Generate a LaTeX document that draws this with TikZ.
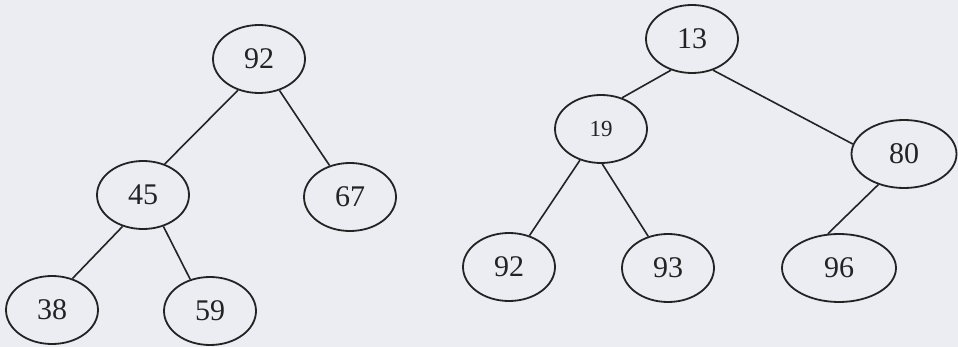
\documentclass[tikz,border=0pt]{standalone}
\usepackage{fontspec}
\setmainfont{Liberation Serif}
\usetikzlibrary{shapes.geometric}
\definecolor{bg}{RGB}{236,236,243}
\definecolor{ink}{RGB}{35,35,35}
\tikzset{
  vert/.style={ellipse, draw=ink, line width=1.8pt, inner sep=0pt, text=ink,
    minimum width=92pt, minimum height=68pt, font=\fontsize{30}{30}\selectfont},
  edge/.style={draw=ink, line width=1.6pt}
}
\begin{document}
\begin{tikzpicture}[x=1pt,y=-1pt]
\fill[bg] (0,0) rectangle (958,347);
\useasboundingbox (0,0) rectangle (958,347);
% left tree
\node[vert] (a92) at (259,59) {92};
\node[vert] (a45) at (143,195) {45};
\node[vert] (a67) at (350,197) {67};
\node[vert] (a38) at (52,310) {38};
\node[vert] (a59) at (210,311) {59};
\draw[edge] (a92.236) -- (a45.55);
\draw[edge] (a92.303) -- (a67.123);
\draw[edge] (a45.237) -- (a38.57);
\draw[edge] (a45.303) -- (a59.122);
% right tree
\node[vert] (b13) at (692,39) {13};
\node[vert, font=\fontsize{23}{23}\selectfont] (b19) at (601,129) {19};
\node[vert, minimum width=105pt] (b80) at (904,154) {80};
\node[vert] (b92) at (509,267) {92};
\node[vert] (b93) at (668,268) {93};
\node[vert, minimum width=114pt] (b96) at (839,268) {96};
\draw[edge] (b13.236) -- (b19.56);
\draw[edge] (b13.304) -- (b80.169);
\draw[edge] (b19.236) -- (b92.57);
\draw[edge] (b19.272) -- (b93.122);
\draw[edge] (b80.230) -- (b96.108);
\end{tikzpicture}
\end{document}
